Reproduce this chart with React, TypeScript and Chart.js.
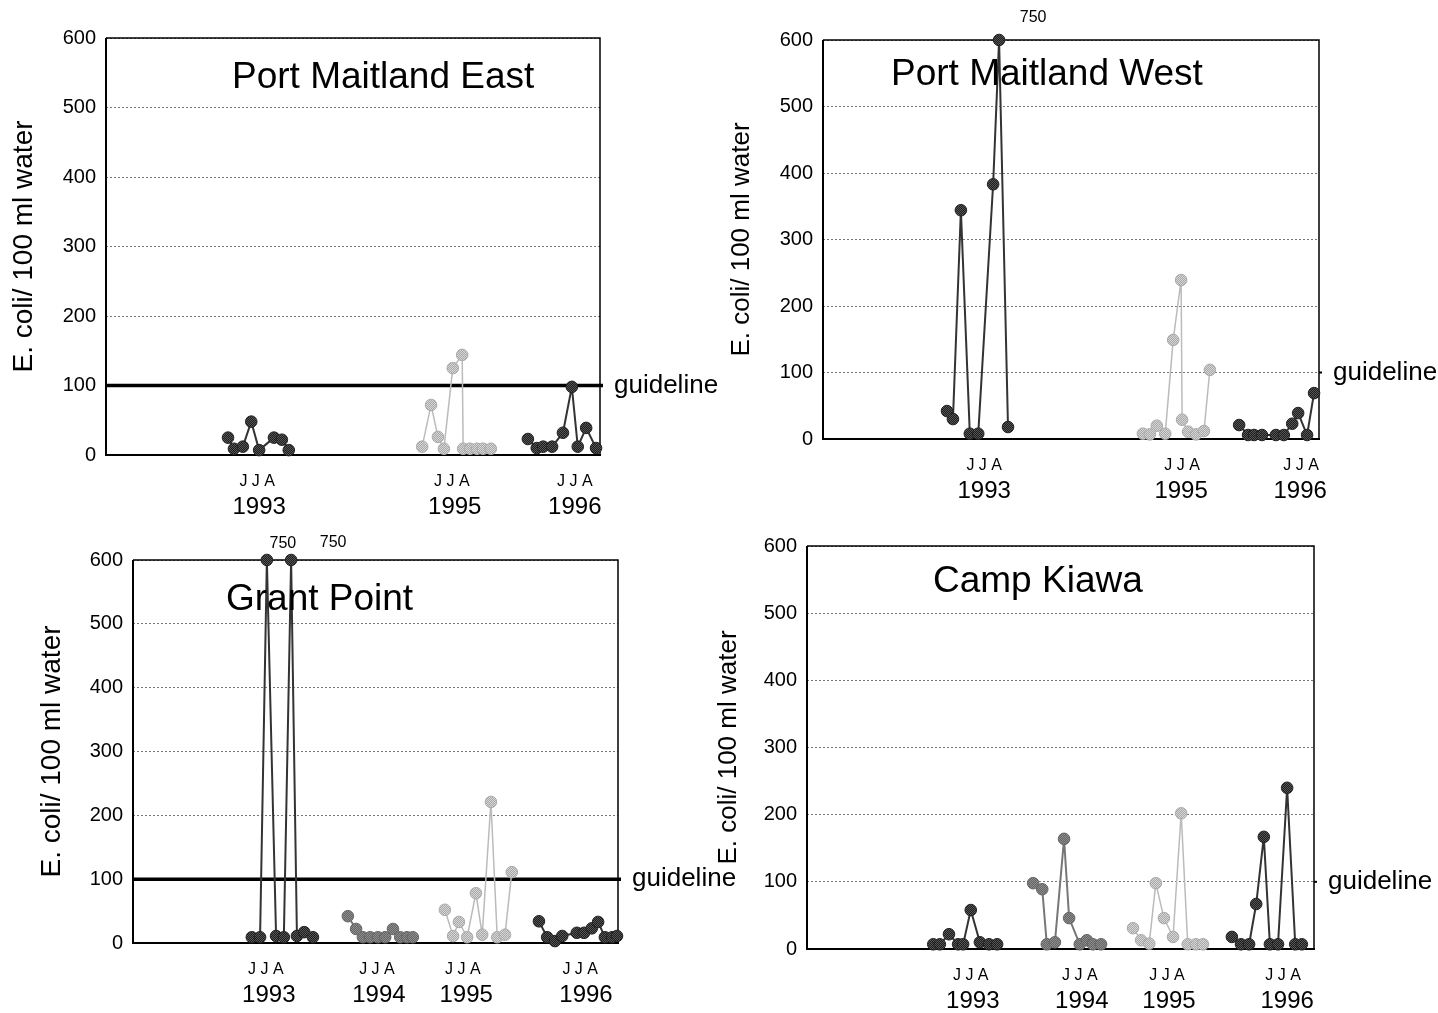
import React, { useEffect, useRef } from 'react';
import { Chart, registerables } from 'chart.js';
Chart.register(...registerables);

// ---------------- data ----------------
const Y_MAX = 600;
const GUIDELINE = 100;
const Y_TITLE = 'E. coli/ 100 ml water';
const MONTH_LABEL = 'J J A';

// Port Maitland East
const pmeX1993 = [24.7, 25.9, 27.7, 29.4, 31.0, 34.0, 35.6, 37.0];
const pmeY1993 = [25, 9, 12, 48, 7, 25, 22, 7];
const pmeX1995 = [64.0, 65.8, 67.2, 68.4, 70.2, 72.1, 72.3, 73.7, 75.1, 76.3, 77.9];
const pmeY1995 = [12, 72, 26, 9, 125, 144, 9, 9, 9, 9, 9];
const pmeX1996 = [85.4, 87.2, 88.5, 90.3, 92.5, 94.3, 95.5, 97.2, 99.2];
const pmeY1996 = [23, 10, 12, 12, 32, 98, 12, 39, 10];
const pmeYears = ['1993', '1995', '1996'];
const pmeYearPos = [31.0, 70.6, 94.9];
const pmeMonthPos = [30.6, 70.0, 94.9];

// Port Maitland West
const pmwX1993 = [25.0, 26.2, 27.8, 29.6, 31.3, 34.3, 35.5, 37.3];
const pmwY1993 = [42, 30, 344, 8, 8, 383, 750, 18];
const pmwX1995 = [64.5, 65.9, 67.3, 69.0, 70.6, 72.2, 72.4, 73.6, 75.2, 76.8, 78.0];
const pmwY1995 = [8, 7, 20, 8, 149, 239, 29, 11, 7, 12, 104];
const pmwX1996 = [83.9, 85.7, 86.9, 88.5, 91.3, 92.9, 94.6, 95.8, 97.6, 99.0];
const pmwY1996 = [21, 6, 6, 6, 6, 6, 23, 39, 6, 69];
const pmwYears = ['1993', '1995', '1996'];
const pmwYearPos = [32.5, 72.2, 96.2];
const pmwMonthPos = [32.5, 72.4, 96.4];

// Grant Point
const gpX1993 = [24.5, 26.2, 27.6, 29.5, 31.1, 32.6, 33.8, 35.3, 37.1];
const gpY1993 = [9, 9, 750, 11, 9, 750, 11, 17, 9];
const gpX1994 = [44.3, 46.0, 47.4, 48.9, 50.5, 52.0, 53.6, 55.1, 56.5, 57.7];
const gpY1994 = [42, 22, 9, 9, 9, 9, 22, 9, 9, 9];
const gpX1995 = [64.3, 66.0, 67.2, 68.9, 70.7, 72.0, 73.8, 75.1, 76.7, 78.1];
const gpY1995 = [52, 11, 33, 9, 78, 13, 221, 9, 13, 111];
const gpX1996 = [83.7, 85.4, 87.0, 88.5, 91.5, 93.0, 94.6, 95.9, 97.3, 98.8, 99.8];
const gpY1996 = [34, 9, 3, 11, 16, 16, 23, 33, 9, 9, 11];
const gpYears = ['1993', '1994', '1995', '1996'];
const gpYearPos = [28.0, 50.7, 68.7, 93.4];
const gpMonthPos = [27.4, 50.3, 68.0, 92.2];

// Camp Kiawa
const ckX1993 = [24.9, 26.2, 28.0, 29.8, 30.8, 32.3, 34.1, 35.9, 37.5];
const ckY1993 = [7, 7, 22, 7, 7, 58, 10, 7, 7];
const ckX1994 = [44.6, 46.4, 47.3, 48.9, 50.7, 51.7, 53.8, 55.2, 56.4, 58.0];
const ckY1994 = [98, 89, 7, 10, 164, 46, 7, 13, 7, 7];
const ckX1995 = [64.3, 65.9, 67.5, 68.8, 70.4, 72.2, 73.8, 75.1, 76.7, 78.1];
const ckY1995 = [31, 13, 8, 98, 46, 18, 202, 7, 7, 7];
const ckX1996 = [83.8, 85.6, 87.2, 88.6, 90.1, 91.3, 92.9, 94.7, 96.3, 97.6];
const ckY1996 = [18, 7, 7, 67, 167, 7, 7, 240, 7, 7];
const ckYears = ['1993', '1994', '1995', '1996'];
const ckYearPos = [32.7, 54.2, 71.4, 94.7];
const ckMonthPos = [32.3, 53.8, 71.0, 93.9];

// ---------------- styles / layout ----------------
const FONT = '"Liberation Sans", Arial, Helvetica, sans-serif';

type Tone = 'dark' | 'medium' | 'light';
const TONES: Record<Tone, { a: string; b: string; border: string; line: string; lw: number }> = {
  dark: { a: '#1e1e1e', b: '#555555', border: '#222222', line: '#333333', lw: 2 },
  medium: { a: '#666666', b: '#8c8c8c', border: '#666666', line: '#777777', lw: 2 },
  light: { a: '#a8a8a8', b: '#d6d6d6', border: '#aaaaaa', line: '#bbbbbb', lw: 1.5 },
};

interface SeriesDef { xs: number[]; ys: number[]; tone: Tone }
interface PanelDef {
  name: string;
  series: SeriesDef[];
  years: string[];
  yearPos: number[];
  monthPos: number[];
  guidelineLine: boolean;
  // layout
  left: number; top: number; w: number; h: number;
  padLeft: number; padTop: number; padRight: number; yW: number;
  yTitleSize: number;
  titleDx: number; titleDy: number;
  overflowOffsets: [number, number][];
}

const PANELS: PanelDef[] = [
  {
    name: 'Port Maitland East',
    series: [
      { xs: pmeX1993, ys: pmeY1993, tone: 'dark' },
      { xs: pmeX1995, ys: pmeY1995, tone: 'light' },
      { xs: pmeX1996, ys: pmeY1996, tone: 'dark' },
    ],
    years: pmeYears, yearPos: pmeYearPos, monthPos: pmeMonthPos,
    guidelineLine: true,
    left: 0, top: 0, w: 720, h: 518, padLeft: 7, padTop: 38, padRight: 120, yW: 99, yTitleSize: 28,
    titleDx: 126, titleDy: 40, overflowOffsets: [],
  },
  {
    name: 'Port Maitland West',
    series: [
      { xs: pmwX1993, ys: pmwY1993, tone: 'dark' },
      { xs: pmwX1995, ys: pmwY1995, tone: 'light' },
      { xs: pmwX1996, ys: pmwY1996, tone: 'dark' },
    ],
    years: pmwYears, yearPos: pmwYearPos, monthPos: pmwMonthPos,
    guidelineLine: false,
    left: 720, top: 0, w: 718, h: 502, padLeft: 6, padTop: 40, padRight: 119, yW: 97, yTitleSize: 26,
    titleDx: 68, titleDy: 35, overflowOffsets: [[34, 22]],
  },
  {
    name: 'Grant Point',
    series: [
      { xs: gpX1993, ys: gpY1993, tone: 'dark' },
      { xs: gpX1994, ys: gpY1994, tone: 'medium' },
      { xs: gpX1995, ys: gpY1995, tone: 'light' },
      { xs: gpX1996, ys: gpY1996, tone: 'dark' },
    ],
    years: gpYears, yearPos: gpYearPos, monthPos: gpMonthPos,
    guidelineLine: true,
    left: 0, top: 520, w: 745, h: 486, padLeft: 35, padTop: 40, padRight: 127, yW: 98, yTitleSize: 28,
    titleDx: 93, titleDy: 40, overflowOffsets: [[16, 16], [42, 17]],
  },
  {
    name: 'Camp Kiawa',
    series: [
      { xs: ckX1993, ys: ckY1993, tone: 'dark' },
      { xs: ckX1994, ys: ckY1994, tone: 'medium' },
      { xs: ckX1995, ys: ckY1995, tone: 'light' },
      { xs: ckX1996, ys: ckY1996, tone: 'dark' },
    ],
    years: ckYears, yearPos: ckYearPos, monthPos: ckMonthPos,
    guidelineLine: false,
    left: 700, top: 520, w: 738, h: 492, padLeft: 13, padTop: 26, padRight: 124, yW: 94, yTitleSize: 26,
    titleDx: 126, titleDy: 36, overflowOffsets: [],
  },
];

function makePattern(a: string, b: string): CanvasPattern | string {
  const c = document.createElement('canvas');
  c.width = 2; c.height = 2;
  const g = c.getContext('2d');
  if (!g) return a;
  g.fillStyle = a; g.fillRect(0, 0, 2, 2);
  g.fillStyle = b; g.fillRect(0, 0, 1, 1); g.fillRect(1, 1, 1, 1);
  return g.createPattern(c, 'repeat') || a;
}

function Panel({ p }: { p: PanelDef }) {
  const ref = useRef<HTMLCanvasElement | null>(null);
  useEffect(() => {
    if (!ref.current) return;
    const datasets = p.series.map((s) => {
      const t = TONES[s.tone];
      return {
        data: s.xs.map((x, i) => ({ x, y: Math.min(s.ys[i], Y_MAX) })),
        borderColor: t.line,
        borderWidth: t.lw,
        backgroundColor: makePattern(t.a, t.b),
        pointBackgroundColor: makePattern(t.a, t.b),
        pointBorderColor: t.border,
        pointBorderWidth: 1,
        pointRadius: 5.8,
        pointHoverRadius: 5.8,
        tension: 0,
        clip: false as const,
      };
    });

    const decor = {
      id: 'decor',
      beforeDatasetsDraw(chart: any) {
        const { ctx, chartArea: a, scales } = chart;
        const gy = scales.y.getPixelForValue(GUIDELINE);
        ctx.save();
        ctx.strokeStyle = '#000';
        // frame
        ctx.lineWidth = 1.5;
        ctx.beginPath();
        ctx.moveTo(a.left, a.top); ctx.lineTo(a.right, a.top); ctx.lineTo(a.right, a.bottom);
        ctx.stroke();
        ctx.lineWidth = 2;
        ctx.beginPath();
        ctx.moveTo(a.left, a.top); ctx.lineTo(a.left, a.bottom); ctx.lineTo(a.right + 1, a.bottom);
        ctx.stroke();
        // guideline
        if (p.guidelineLine) {
          ctx.lineWidth = 3.5;
          ctx.beginPath();
          ctx.moveTo(a.left, gy); ctx.lineTo(a.right + 3, gy);
          ctx.stroke();
        } else {
          ctx.lineWidth = 2;
          ctx.beginPath();
          ctx.moveTo(a.right, gy); ctx.lineTo(a.right + 3, gy);
          ctx.stroke();
        }
        ctx.restore();
      },
      afterDatasetsDraw(chart: any) {
        const { ctx, chartArea: a, scales } = chart;
        const gy = scales.y.getPixelForValue(GUIDELINE);
        ctx.save();
        ctx.fillStyle = '#000';
        ctx.textBaseline = 'middle';
        ctx.textAlign = 'left';
        ctx.font = `37px ${FONT}`;
        ctx.fillText(p.name, a.left + p.titleDx, a.top + p.titleDy);
        ctx.font = `26px ${FONT}`;
        ctx.fillText('guideline', a.right + 14, gy);
        // values above the axis maximum
        ctx.font = `16px ${FONT}`;
        ctx.textAlign = 'center';
        let k = 0;
        p.series.forEach((s, di) => {
          const meta = chart.getDatasetMeta(di);
          s.ys.forEach((v, i) => {
            if (v > Y_MAX) {
              const el = meta.data[i];
              const off = p.overflowOffsets[k] || [30, 20];
              ctx.fillText(String(v), el.x + off[0], a.top - off[1]);
              k++;
            }
          });
        });
        ctx.restore();
      },
    };

    const chart = new Chart(ref.current, {
      type: 'line',
      data: { datasets },
      options: {
        responsive: false,
        animation: false,
        devicePixelRatio: 1,
        layout: { padding: { left: p.padLeft, top: p.padTop, right: p.padRight, bottom: 0 } },
        plugins: { legend: { display: false }, tooltip: { enabled: false } },
        events: [],
        scales: {
          x: {
            type: 'linear',
            position: 'bottom',
            min: 0,
            max: 100,
            weight: 0,
            grid: { display: false },
            border: { display: false },
            afterBuildTicks: (s: any) => { s.ticks = p.monthPos.map((v) => ({ value: v })); },
            afterFit: (s: any) => { s.height = 31; },
            ticks: {
              autoSkip: false,
              maxRotation: 0,
              padding: 9,
              color: '#000',
              font: { family: FONT, size: 16 },
              callback: () => MONTH_LABEL,
            },
          },
          x2: {
            type: 'linear',
            position: 'bottom',
            min: 0,
            max: 100,
            weight: 1,
            grid: { display: false },
            border: { display: false },
            afterBuildTicks: (s: any) => { s.ticks = p.yearPos.map((v) => ({ value: v })); },
            afterFit: (s: any) => { s.height = 32; },
            ticks: {
              autoSkip: false,
              maxRotation: 0,
              padding: -1,
              color: '#000',
              font: { family: FONT, size: 24 },
              callback: (_v: any, i: number) => p.years[i],
            },
          },
          y: {
            type: 'linear',
            min: 0,
            max: Y_MAX,
            afterFit: (s: any) => { s.width = p.yW; },
            grid: { color: '#777', lineWidth: 1, drawTicks: false },
            border: { display: false, dash: [2, 2] },
            ticks: {
              stepSize: 100,
              padding: 10,
              color: '#000',
              font: { family: FONT, size: 20 },
            },
            title: {
              display: true,
              text: Y_TITLE,
              color: '#000',
              padding: 0,
              font: { family: FONT, size: p.yTitleSize },
            },
          },
        },
      } as any,
      plugins: [decor],
    });
    return () => chart.destroy();
  }, [p]);
  return (
    <canvas
      ref={ref}
      width={p.w}
      height={p.h}
      style={{ position: 'absolute', left: p.left, top: p.top, width: p.w, height: p.h }}
    />
  );
}

export default function App() {
  return (
    <div style={{ position: 'absolute', left: 0, top: 0, width: 1438, height: 1013, overflow: 'hidden', background: '#fff' }}>
      {PANELS.map((p) => (
        <Panel key={p.name} p={p} />
      ))}
    </div>
  );
}
